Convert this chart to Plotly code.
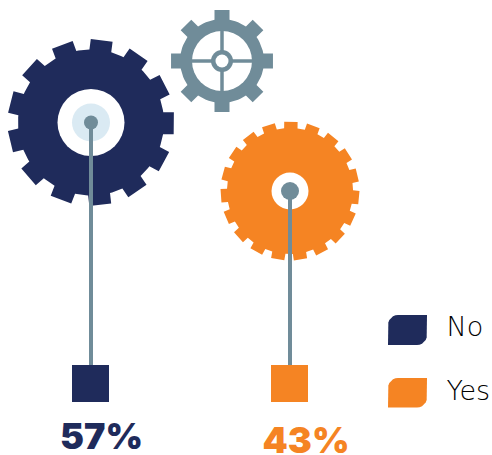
import math
import plotly.graph_objects as go

# Survey result
categories = ["No", "Yes"]
percentages = [57, 43]

NAVY = "#1F2B5B"
ORANGE = "#F58423"
SLATE = "#708C99"
PALE = "#DAEAF3"
WHITE = "#FFFFFF"

W, H = 492, 455


def gear_outline(cx, cy, root, tip, teeth, half_width, phase):
    """Closed polygon for a toothed wheel, y pointing down in page units."""
    xs, ys = [], []
    step = 360 / teeth
    base = math.degrees(math.asin(half_width / root))
    top = math.degrees(math.asin(half_width / tip))
    for i in range(teeth):
        a = phase + i * step
        corners = [(root, a - base), (tip, a - top), (tip, a + top), (root, a + base)]
        gap_end = a + step - base
        arc = [(root, a + base + (gap_end - a - base) * k / 6) for k in range(1, 6)]
        for r, deg in corners + arc:
            xs.append(cx + r * math.cos(math.radians(deg)))
            ys.append(cy - r * math.sin(math.radians(deg)))
    xs.append(xs[0])
    ys.append(ys[0])
    return xs, ys


def filled(xs, ys, color):
    return go.Scatter(x=xs, y=ys, mode="lines", fill="toself", fillcolor=color,
                      line=dict(width=0, color=color), hoverinfo="skip")


def dot(x, y, diameter, color, symbol="circle"):
    return go.Scatter(x=[x], y=[y], mode="markers", hoverinfo="skip",
                      marker=dict(size=diameter, color=color, symbol=symbol, line=dict(width=0)))


def rule(x0, y0, x1, y1, width, color):
    return go.Scatter(x=[x0, x1], y=[y0, y1], mode="lines", hoverinfo="skip",
                      line=dict(width=width, color=color))


def leaf(x0, y0, x1, y1, r, color):
    """Swatch with rounded top-left and bottom-right corners."""
    xs, ys = [x1, x1], [y0, y1 - r]
    for k in range(1, 7):
        t = math.radians(90 * k / 6)
        xs.append(x1 - r + r * math.cos(t))
        ys.append(y1 - r + r * math.sin(t))
    xs += [x0, x0]
    ys += [y1, y0 + r]
    for k in range(1, 7):
        t = math.radians(90 * k / 6)
        xs.append(x0 + r - r * math.cos(t))
        ys.append(y0 + r - r * math.sin(t))
    xs.append(x1)
    ys.append(y0)
    return filled(xs, ys, color)


fig = go.Figure()

# Small slate gear with ring, spokes and hub
gx, gy = 222, 61
fig.add_trace(filled(*gear_outline(gx, gy, 42, 51.5, 8, 7.5, 0), SLATE))
fig.add_trace(dot(gx, gy, 60, WHITE))
fig.add_trace(rule(gx - 31, gy, gx + 31, gy, 3.5, SLATE))
fig.add_trace(rule(gx, gy - 31, gx, gy + 31, 3.5, SLATE))
fig.add_trace(dot(gx, gy, 22, SLATE))
fig.add_trace(dot(gx, gy, 13, WHITE))

# One large gear per answer
wheels = [
    dict(cx=91, cy=122.5, root=73, tip=83.5, teeth=13, hw=11, phase=-0.5, hole=67, color=NAVY),
    dict(cx=290, cy=191, root=63, tip=69.5, teeth=19, hw=6.7, phase=-5.5, hole=37, color=ORANGE),
]
for w in wheels:
    fig.add_trace(filled(*gear_outline(w["cx"], w["cy"], w["root"], w["tip"], w["teeth"], w["hw"], w["phase"]), w["color"]))
    fig.add_trace(dot(w["cx"], w["cy"], w["hole"], WHITE))

fig.add_trace(dot(wheels[0]["cx"], wheels[0]["cy"], 38, PALE))

# Stems, pivots and base squares
pivot_sizes = [14, 18]
label_x = [101.5, 306]
label_y = [440, 444]
for i, w in enumerate(wheels):
    fig.add_trace(rule(w["cx"], w["cy"], w["cx"], 366, 4, SLATE))
    fig.add_trace(dot(w["cx"], w["cy"], pivot_sizes[i], SLATE))
    fig.add_trace(dot(w["cx"] - 0.5, 383.5, 37, w["color"], "square"))
    fig.add_trace(go.Scatter(
        x=[label_x[i]], y=[label_y[i]], mode="text",
        text=[f"{percentages[i]}%"], hoverinfo="skip", cliponaxis=False,
        textfont=dict(family="Inter", size=36, weight=900, color=w["color"]),
    ))

# Legend
legend_rows = [(315, 345, NAVY), (378, 407.5, ORANGE)]
for name, (y0, y1, color) in zip(categories, legend_rows):
    fig.add_trace(leaf(388, y0, 427, y1, 10, color))
    fig.add_trace(go.Scatter(
        x=[446.5], y=[(y0 + y1) / 2 + (0 if name == "Yes" else -1)], mode="text",
        text=[name], textposition="middle right", hoverinfo="skip",
        textfont=dict(family="DejaVu Sans", size=27, weight=200, color="#000000"),
    ))

fig.update_layout(
    width=W, height=H, autosize=False, showlegend=False,
    margin=dict(l=0, r=0, t=0, b=0),
    paper_bgcolor=WHITE, plot_bgcolor=WHITE,
    xaxis=dict(range=[0, W], visible=False, fixedrange=True),
    yaxis=dict(range=[H, 0], visible=False, fixedrange=True),
)

fig.write_html("out.html", config=dict(displayModeBar=False))
